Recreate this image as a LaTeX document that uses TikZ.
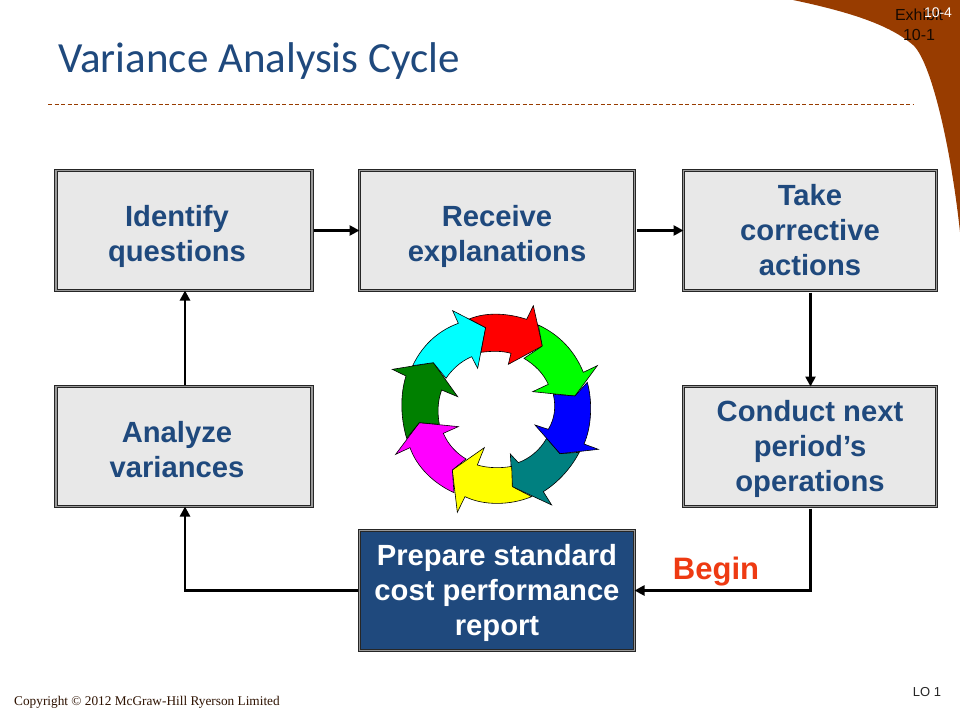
\documentclass[tikz,border=0pt]{standalone}
\usepackage{fontspec}
\setmainfont{Liberation Sans}
\newfontfamily\titlefont{Carlito}
\newfontfamily\copyfont{Liberation Serif}
\usetikzlibrary{arrows.meta}
\definecolor{navy}{HTML}{1F497D}
\definecolor{boxblue}{HTML}{1F497D}
\definecolor{boxgrey}{HTML}{E8E8E8}
\definecolor{rust}{HTML}{983C00}
\definecolor{beginred}{HTML}{EE3A12}
\newcommand\lift[1]{\rule{0pt}{\dimexpr 22pt+2\dimexpr #1\relax\relax}}
\tikzset{
  x=1pt,y=-1pt,
  panel/.style={draw=black!85,line width=1.1pt,double=black!40,double distance=1.6pt,outer sep=0pt,inner sep=0pt,
    fill=boxgrey,text=navy,align=center,font=\fontsize{29.2}{35}\selectfont\bfseries},
  wide/.style={panel,minimum width=275pt,minimum height=120pt},
  narrow/.style={panel,minimum width=256.5pt,minimum height=120pt},
  tall/.style={panel,minimum width=253pt,minimum height=120pt},
  flow/.style={draw=black,line width=2.8pt,-{Triangle[length=10pt,width=10pt]},shorten <=2pt},
  ring/.style={draw=black,line width=.6pt,line join=miter},
}
\begin{document}
\begin{tikzpicture}
\useasboundingbox (0,0) rectangle (960,720);
\fill[white] (0,0) rectangle (960,720);
% corner
\fill[rust] (793,0) .. controls (850,12) and (890,25) .. (913,45)
  .. controls (930,60) and (950,140) .. (960,232) -- (960,0) -- cycle;
\node[text=black!85!rust,font=\fontsize{16}{20}\selectfont,align=center] (exhibit) at (919,25) {Exhibit\\10-1};
\node[text=white,font=\fontsize{14}{16}\selectfont] (pageno) at (938,13) {10-4};
% title
\node[text=navy,font=\titlefont\fontsize{43}{48}\selectfont,anchor=west,inner sep=0pt] (title) at (58,61) {Variance Analysis Cycle};
\coordinate (ruleL) at (48,104);
\coordinate (ruleR) at (913,104);
\draw[rust,line width=.7pt,dash pattern=on 4pt off 2.5pt] (ruleL) -- (ruleR);
% boxes
\node[narrow] (identify) at (184,230.5) {\lift{6pt}Identify\hspace*{14pt}\\questions\hspace*{14pt}};
\node[wide] (receive) at (497,230.5) {\lift{6pt}Receive\\explanations};
\node[tall] (take) at (810,230.5) {Take\\corrective\\actions};
\node[narrow] (analyze) at (184,446.5) {\lift{3pt}Analyze\hspace*{14pt}\\variances\hspace*{14pt}};
\node[tall] (conduct) at (810,446.5) {\lift{2pt}Conduct next\\period’s\\operations};
\node[wide,fill=boxblue,text=white] (prepare) at (497,590.5) {\lift{2pt}Prepare standard\\cost performance\\report};
% connectors
\draw[flow] (identify) -- (receive);
\draw[flow] (receive) -- (take);
\draw[flow] ([xshift=.5pt]take.south) -- ([xshift=.5pt]conduct.north);
\draw[flow] ([xshift=.5pt]conduct.south) |- (prepare.east);
\draw[flow] (prepare.west) -| ([xshift=1pt]analyze.south);
\draw[flow] ([xshift=1pt]analyze.north) -- ([xshift=1pt]identify.south);
\node[text=beginred,font=\fontsize{31}{36}\selectfont\bfseries] (begin) at (716,572) {Begin};
% ring
\begin{scope}[shift={(380,295)},x=.3333pt,y=-.3333pt]
\draw[ring,fill={rgb,255:red,0;green,128;blue,128}] (598,472) .. controls (570,525) and (530,565) .. (490,590) -- (515,630) -- (397,575) -- (391,477) -- (415,503) .. controls (450,490) and (480,465) .. (500,430) -- (540,476) -- cycle;
\draw[ring,fill={rgb,255:red,255;green,255;blue,0}] (455,605) .. controls (390,632) and (310,632) .. (255,605) -- (232,652) -- (217,525) -- (313,458) -- (292,510) .. controls (325,520) and (365,520) .. (395,514) -- (397,575) -- cycle;
\draw[ring,fill={rgb,255:red,255;green,0;blue,255}] (222,593) .. controls (160,565) and (110,515) .. (90,458) -- (47,478) -- (118,383) -- (235,395) -- (190,415) .. controls (205,450) and (230,475) .. (258,492) -- (217,525) -- cycle;
\draw[ring,fill={rgb,255:red,0;green,128;blue,0}] (80,430) .. controls (62,370) and (60,300) .. (78,243) -- (37,223) -- (160,203) -- (233,305) -- (185,285) .. controls (172,320) and (172,355) .. (178,388) -- (118,383) -- cycle;
\draw[ring,fill={rgb,255:red,0;green,255;blue,255}] (98,212) .. controls (130,145) and (180,105) .. (235,85) -- (218,47) -- (317,98) -- (293,220) -- (275,185) .. controls (240,200) and (215,225) .. (198,250) -- (160,203) -- cycle;
\draw[ring,fill={rgb,255:red,255;green,0;blue,0}] (268,72) .. controls (320,50) and (385,55) .. (440,73) -- (460,32) -- (487,153) -- (385,208) -- (393,175) .. controls (365,167) and (335,168) .. (303,172) -- (317,98) -- cycle;
\draw[ring,fill={rgb,255:red,0;green,255;blue,0}] (475,90) .. controls (540,120) and (585,170) .. (610,232) -- (652,212) -- (585,303) -- (458,290) -- (505,268) .. controls (490,235) and (465,210) .. (432,190) -- (487,153) -- cycle;
\draw[ring,fill={rgb,255:red,0;green,0;blue,255}] (622,262) .. controls (638,320) and (635,395) .. (612,447) -- (655,463) -- (540,476) -- (465,390) -- (505,403) .. controls (525,370) and (528,335) .. (520,298) -- (585,303) -- cycle;
\end{scope}
% footer
\node[text=black!70!rust,font=\copyfont\fontsize{13.3}{15}\selectfont,anchor=west,inner sep=0pt] (copy) at (14,702) {Copyright © 2012 McGraw-Hill Ryerson Limited};
\node[text=black!85,font=\fontsize{13}{15}\selectfont] (lo) at (927,692) {LO 1};
\end{tikzpicture}
\end{document}
